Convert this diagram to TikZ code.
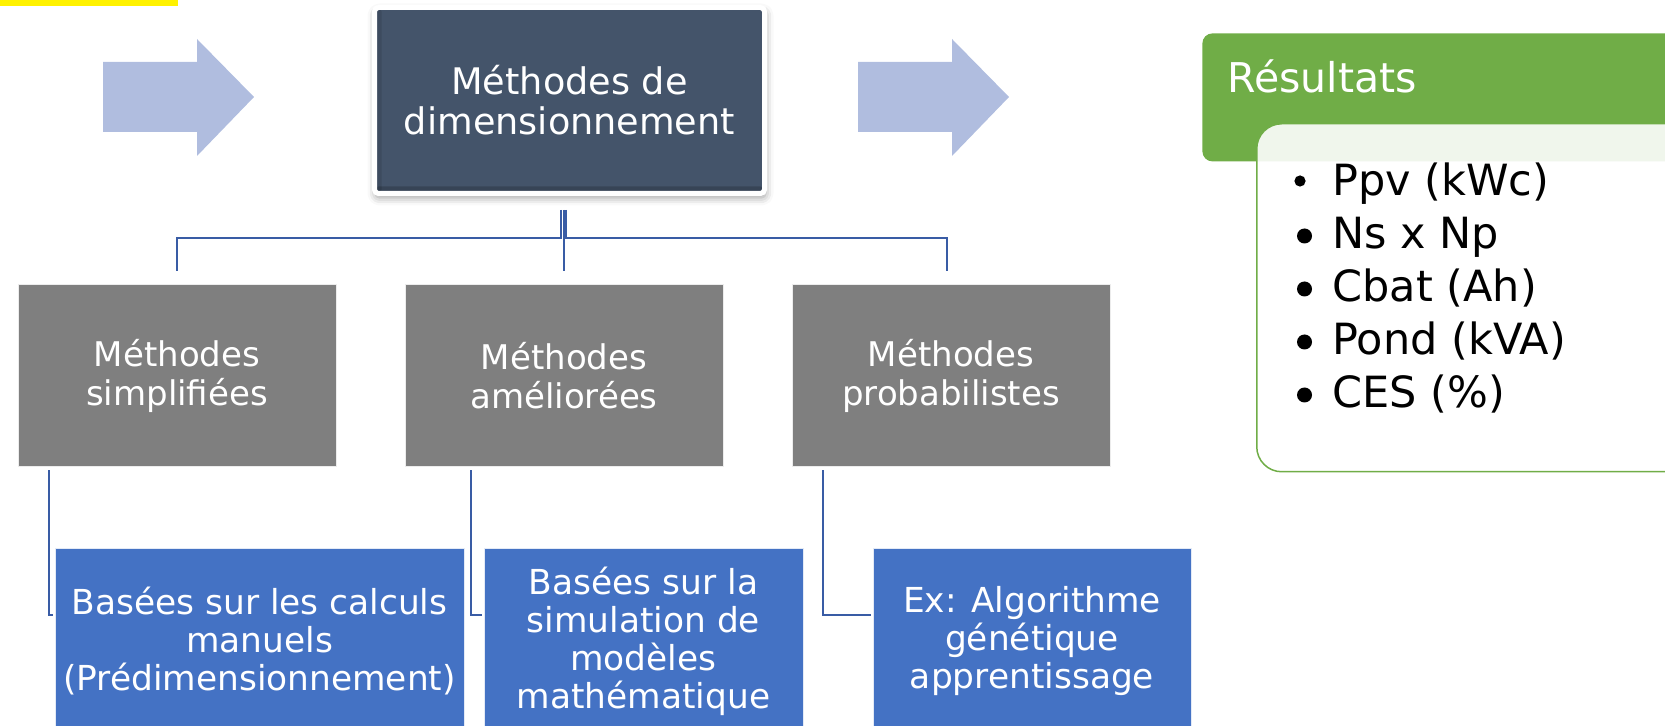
\documentclass[tikz,border=0pt]{standalone}
\usepackage{fontspec}
\setmainfont{DejaVu Sans}
\definecolor{slatedark}{RGB}{68, 84, 106}
\definecolor{boxgray}{RGB}{127, 127, 127}
\definecolor{boxblue}{RGB}{68, 114, 196}
\definecolor{resgreen}{RGB}{112, 173, 71}
\definecolor{arrowlilac}{RGB}{176, 189, 223}
\definecolor{linkblue}{RGB}{57, 92, 165}
\usetikzlibrary{
  calc,
  positioning,
  shadows.blur,
}
\tikzset{
  link/.style={draw=linkblue, line width=1pt},
  methodbox/.style={draw=white!85!boxgray, line width=0.5pt, fill=boxgray, text=white, align=center,
    minimum width=159pt, minimum height=91pt, font=\fontsize{17}{19.5}\selectfont},
  examplebox/.style={draw=white!85!boxblue, line width=0.5pt, fill=boxblue, text=white, align=center,
    minimum height=92pt, font=\fontsize{17.2}{19}\selectfont},
  item/.style={anchor=base west, inner sep=0pt, font=\fontsize{21.5}{26.5}\selectfont},
}

\begin{document}
\begin{tikzpicture}[x=0.5pt, y=-0.5pt, node distance=40.5pt and 34pt]

        \useasboundingbox (0,0) rectangle (1665,726);
        \clip (0,0) rectangle (1665,726);

        \fill[yellow] (0,0) rectangle (178,6);

        % block arrows in and out of the main box
        \fill[arrowlilac] (103,62) -- (197,62) -- (197,39) -- (254,97) -- (197,156) -- (197,132) -- (103,132) -- cycle;
        \fill[arrowlilac, shift={(755,0)}] (103,62) -- (197,62) -- (197,39) -- (254,97) -- (197,156) -- (197,132) -- (103,132) -- cycle;

        \node[draw=white, line width=2.5pt, rounded corners=2pt, fill=slatedark, text=white, align=center,
          minimum width=195pt, minimum height=93pt, font=\fontsize{18.3}{20}\selectfont,
          path picture={
            \fill[black, opacity=0.18] (path picture bounding box.south west) rectangle ([yshift=3.5pt]path picture bounding box.south east);
            \fill[black, opacity=0.1] (path picture bounding box.south west) rectangle ([xshift=3.5pt]path picture bounding box.north west);
          },
          blur shadow={shadow xshift=0.5pt, shadow yshift=-2pt, shadow blur radius=4pt, shadow opacity=40}]
          (dim) at (569.5,100.5) {Méthodes de\\dimensionnement};

        \node[methodbox]    (g1)    at (177,376)       {Méthodes\\simplifiées};
        \node[methodbox]    (g2) [right=of g1]       {Méthodes\\améliorées};
        \node[methodbox]    (g3) [right=of g2]       {Méthodes\\probabilistes};

        \node[examplebox, minimum width=204.5pt, xshift=41.25pt]    (b1) [below=of g1]       {Basées sur les calculs\\manuels\\(Prédimensionnement)};
        \node[examplebox, minimum width=159.5pt, xshift=39.75pt]    (b2) [below=of g2]       {Basées sur la\\simulation de\\modèles\\mathématique};
        \node[examplebox, minimum width=159pt, xshift=40.5pt]    (b3) [below=of g3]       {Ex: Algorithme\\génétique\\apprentissage};

        \draw[link] ($(dim.south)+(-9,14)$) |- ($(g1.north)+(0,-46)$) -- ($(g1.north)+(0,-13)$);
        \draw[link] ($(g2.north |- dim.south)+(0,14)$) -- ($(g2.north)+(0,-13)$);
        \draw[link] ($(dim.south)+(-4,14)$) |- ($(g3.north)+(-4,-46)$) -- ($(g3.north)+(-4,-13)$);

        \draw[link] ($(g1.south west)+(31,3)$) |- ($(b1.west)+(-2,-26)$);
        \draw[link] ($(g2.south west)+(66,3)$) |- ($(b2.west)+(-2,-26)$);
        \draw[link] ($(g3.south west)+(31,3)$) |- ($(b3.west)+(-2,-26)$);

        % results panel
        \node[fill=resgreen, rounded corners=5pt, anchor=north west, minimum width=249pt, minimum height=64pt]    (hdr) at (1202,33) {};
        \node[draw=resgreen, line width=0.75pt, fill=white, fill opacity=0.9, rounded corners=12.5pt, anchor=north west,
          minimum width=232pt, minimum height=174pt]    (res) at (1256,123) {};
        \node[anchor=base west, inner sep=0pt, text=white, font=\fontsize{20.5}{24}\selectfont]    (hdrtxt) at (1227,93) {Résultats};

        \node[item]    (i1) at (1332,196)       {Ppv (kWc)};
        \node[item]    (i2) at (1332,249)       {Ns x Np};
        \node[item]    (i3) at (1332,302)       {Cbat (Ah)};
        \node[item]    (i4) at (1332,355)       {Pond (kVA)};
        \node[item]    (i5) at (1332,408)       {CES (\%)};

        % list bullets, the first one is smaller
        \fill ($(i1.base west)+(-32,-15)$) circle[radius=2.8pt];
        \fill ($(i2.base west)+(-27.5,-13)$) circle[radius=3.75pt];
        \fill ($(i3.base west)+(-27.5,-13)$) circle[radius=3.75pt];
        \fill ($(i4.base west)+(-27.5,-13)$) circle[radius=3.75pt];
        \fill ($(i5.base west)+(-27.5,-13)$) circle[radius=3.75pt];

    \end{tikzpicture}
\end{document}
